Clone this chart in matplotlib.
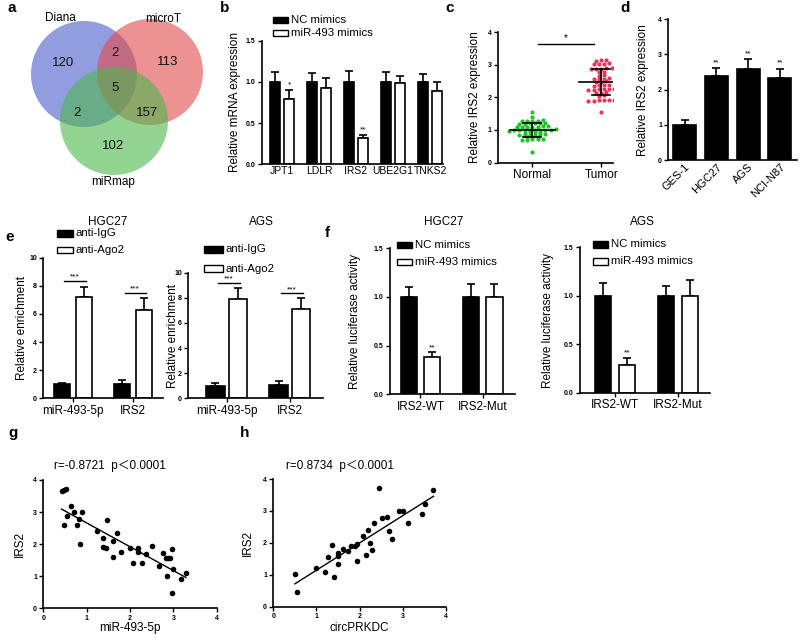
import numpy as np
import matplotlib
matplotlib.use('Agg')
import matplotlib.pyplot as plt
from matplotlib.patches import Circle, Rectangle

plt.rcParams['font.family'] = ['Liberation Sans', 'Noto Sans CJK SC', 'DejaVu Sans']

W, H = 800, 639

# ---- data ----
venn_names = ['Diana', 'microT', 'miRmap']
# Diana only, microT only, miRmap only, D&M, D&R, M&R, all three
venn_counts = [120, 113, 102, 2, 2, 157, 5]

b_genes = ['JPT1', 'LDLR', 'IRS2', 'UBE2G1', 'TNKS2']
b_nc = [1.0, 1.0, 1.0, 1.0, 1.0]
b_nc_err = [0.12, 0.11, 0.13, 0.12, 0.10]
b_mir = [0.79, 0.92, 0.32, 0.99, 0.89]
b_mir_err = [0.11, 0.13, 0.04, 0.08, 0.11]
b_sig = ['*', '', '**', '', '']

c_groups = ['Normal', 'Tumor']
c_normal = [1.55, 1.40, 1.28, 1.29, 1.27, 1.28, 1.30, 1.20, 1.21, 1.19, 1.20, 1.22, 1.18,
            1.10, 1.11, 1.09, 1.10, 1.12, 1.08, 1.10, 1.00, 1.01, 0.99, 1.00, 1.02, 0.98,
            1.00, 1.01, 0.99, 1.00, 0.93, 0.94, 0.92, 0.93, 0.86, 0.87, 0.85, 0.86, 0.88,
            0.84, 0.78, 0.79, 0.77, 0.71, 0.72, 0.70, 0.71, 0.69, 0.31]
c_tumor = [3.14, 3.15, 3.13, 3.04, 3.05, 3.03, 3.04, 2.88, 2.89, 2.87, 2.88, 2.90,
           2.78, 2.79, 2.68, 2.67, 2.58, 2.59, 2.57, 2.58, 2.48, 2.49, 2.47, 2.37, 2.38,
           2.36, 2.37, 2.25, 2.26, 2.24, 2.25, 2.27, 2.23, 2.15, 2.16, 2.14, 2.05, 2.06,
           1.91, 1.92, 1.90, 1.91, 1.93, 1.89, 1.55]

d_cells = ['GES-1', 'HGC27', 'AGS', 'NCI-N87']
d_vals = [1.0, 2.4, 2.6, 2.33]
d_err = [0.14, 0.22, 0.28, 0.27]
d_sig = ['', '**', '**', '**']

e_targets = ['miR-493-5p', 'IRS2']
e_hgc_igg = [1.0, 1.0]
e_hgc_igg_err = [0.1, 0.3]
e_hgc_ago = [7.2, 6.3]
e_hgc_ago_err = [0.75, 0.8]
e_ags_igg = [1.0, 1.05]
e_ags_igg_err = [0.2, 0.35]
e_ags_ago = [7.9, 7.1]
e_ags_ago_err = [0.9, 0.85]

f_constructs = ['IRS2-WT', 'IRS2-Mut']
f_hgc_nc = [1.0, 1.0]
f_hgc_nc_err = [0.1, 0.13]
f_hgc_mir = [0.38, 1.0]
f_hgc_mir_err = [0.05, 0.13]
f_ags_nc = [1.0, 1.0]
f_ags_nc_err = [0.13, 0.1]
f_ags_mir = [0.29, 1.0]
f_ags_mir_err = [0.07, 0.16]
f_sig = ['**', '']

g_x = [0.42, 0.48, 0.52, 0.63, 0.54, 0.48, 0.71, 0.78, 0.82, 0.90, 0.85, 1.23, 1.37,
       1.38, 1.45, 1.48, 1.60, 1.69, 1.60, 1.79, 2.00, 2.08, 2.19, 2.19, 2.27, 2.38,
       2.50, 2.68, 2.75, 2.83, 2.88, 2.92, 2.86, 2.98, 3.00, 2.98, 3.18, 3.29]
g_y = [3.66, 3.69, 3.71, 3.19, 2.88, 2.60, 2.99, 2.60, 2.77, 2.99, 2.00, 2.41, 2.20,
       1.92, 1.89, 2.75, 2.11, 2.34, 1.61, 1.77, 1.89, 1.42, 1.89, 1.77, 1.42, 1.68,
       1.95, 1.33, 1.71, 1.56, 1.56, 1.56, 1.01, 1.84, 1.22, 0.47, 0.90, 1.09]

h_x = [0.50, 0.55, 1.00, 1.20, 1.26, 1.37, 1.41, 1.50, 1.50, 1.51, 1.61, 1.74, 1.81,
       1.90, 1.94, 1.95, 2.08, 2.15, 2.20, 2.25, 2.28, 2.33, 2.45, 2.51, 2.64, 2.69,
       2.76, 2.91, 3.01, 3.11, 3.44, 3.52, 3.71]
h_y = [1.01, 0.46, 1.22, 1.10, 1.57, 1.93, 0.92, 1.69, 1.58, 1.33, 1.82, 1.74, 1.90,
       1.91, 1.95, 1.43, 2.21, 1.62, 2.41, 2.00, 1.78, 2.61, 3.71, 2.77, 2.80, 2.36,
       2.11, 3.01, 3.00, 2.61, 2.90, 3.21, 3.67]

fig = plt.figure(figsize=(W / 100, H / 100), dpi=100)


def px_axes(l, t, r, b):
    return fig.add_axes([l / W, 1 - b / H, (r - l) / W, (b - t) / H])


def style(ax, xlim, ylim, yticks, fmt='{:.0f}'):
    for s in ['top', 'right']:
        ax.spines[s].set_visible(False)
    for s in ['left', 'bottom']:
        ax.spines[s].set_linewidth(1.2)
    ax.set_xlim(*xlim)
    ax.set_ylim(*ylim)
    ax.set_yticks(yticks)
    ax.set_yticklabels([fmt.format(v) for v in yticks], fontsize=5, fontweight='bold')
    ax.tick_params(direction='out', length=3, width=1, pad=1.5)
    ax.patch.set_alpha(0)


def grouped(ax, a, a_err, b, b_err, off, w):
    x = np.arange(len(a))
    for xs, v, e, fc in [(x - off, a, a_err, 'black'), (x + off, b, b_err, 'white')]:
        ax.errorbar(xs, v, yerr=[np.zeros(len(v)), e], fmt='none', ecolor='black',
                    elinewidth=1.2, capsize=3, capthick=1.2, zorder=1)
        ax.bar(xs, v, w, color=fc, edgecolor='black', linewidth=1.2, zorder=2)
    return x


def cat_labels(ax, x, labels, size=8):
    ax.set_xticks(x)
    ax.set_xticklabels(labels, fontsize=size)


# overlay for free text
ov = fig.add_axes([0, 0, 1, 1])
ov.set_xlim(0, W)
ov.set_ylim(H, 0)
ov.axis('off')


def ylab(x, t, b, text):
    ov.text(x, (t + b) / 2, text, rotation=90, ha='center', va='center', fontsize=8.5)


def legend(x, y, labels, dy, w=15.5, h=6.5):
    for i, (lab, fc) in enumerate(zip(labels, ['black', 'white'])):
        yy = y + i * dy
        ov.add_patch(Rectangle((x, yy - h / 2), w, h, facecolor=fc, edgecolor='black', lw=1))
        ov.text(x + w + 3, yy, lab, ha='left', va='center', fontsize=8.2)


# ---- panel letters ----
for lab, (x, y) in {'a': (8, 8), 'b': (220, 8), 'c': (445, 8), 'd': (620, 8),
                    'e': (5, 237), 'f': (325, 233), 'g': (8, 433), 'h': (240, 433)}.items():
    ov.text(x, y, lab, fontsize=11, fontweight='bold', ha='left', va='center')

# ---- a: venn ----
ov.add_patch(Circle((84, 74), 53, facecolor='#4a5ccb', alpha=0.6, lw=0))
ov.add_patch(Circle((150, 72), 53, facecolor='#e24a4a', alpha=0.6, lw=0))
ov.add_patch(Circle((114, 121), 54, facecolor='#4cb84c', alpha=0.6, lw=0))
venn_pos = [(63, 63), (168, 62), (113, 146), (115, 53), (77, 113), (147, 113), (115, 88)]
for (x, y), n in zip(venn_pos, venn_counts):
    ov.text(x, y, str(n), ha='center', va='center', fontsize=9.5, color='#111111')
for (x, y), name in zip([(60, 18), (163, 19), (113, 182)], venn_names):
    ov.text(x, y, name, ha='center', va='center', fontsize=8.5)

# ---- b ----
ax = px_axes(261.7, 40.7, 443, 164.3)
x = grouped(ax, b_nc, b_nc_err, b_mir, b_mir_err, 0.19, 0.29)
style(ax, (-0.55, 4.35), (0, 1.5), [0, 0.5, 1.0, 1.5], '{:.1f}')
cat_labels(ax, x, b_genes, 7.5)
ax.tick_params(axis='x', length=0)
for i, s in enumerate(b_sig):
    if s:
        ax.text(x[i] + 0.19, b_mir[i] + b_mir_err[i] + 0.02, s, ha='center', va='bottom', fontsize=6)
ylab(235, 40.7, 164.3, 'Relative mRNA expression')
legend(272.7, 20, ['NC mimics', 'miR-493 mimics'], 13)


# ---- c ----
def row_offsets(vals, gap, step):
    # GraphPad-like scatter: values close together share a row, spread evenly
    vals = np.asarray(vals)
    order = np.argsort(vals)
    out = np.zeros(len(vals))
    group = [order[0]]
    groups = []
    for idx in order[1:]:
        if vals[idx] - vals[group[0]] > gap:
            groups.append(group)
            group = [idx]
        else:
            group.append(idx)
    groups.append(group)
    for g in groups:
        n = len(g)
        for k, idx in enumerate(g):
            out[idx] = (k - (n - 1) / 2) * step
    return out


ax = px_axes(498, 32.3, 613, 162.5)
style(ax, (-0.5, 1.17), (0, 4), [0, 1, 2, 3, 4])
xpx = 69.0
for i, (vals, col) in enumerate([(c_normal, '#22c02a'), (c_tumor, '#e8365a')]):
    vals = np.array(vals)
    offs = row_offsets(vals, 0.045, 5.2 / xpx)
    ax.scatter(i + offs, vals, s=9, color=col, lw=0, zorder=2)
    m, sd = vals.mean(), vals.std()
    ax.plot([i - 0.33, i + 0.33], [m, m], color='black', lw=1.2, zorder=3)
    ax.plot([i, i], [m - sd, m + sd], color='black', lw=1.2, zorder=3)
    for yy in (m - sd, m + sd):
        ax.plot([i - 0.13, i + 0.13], [yy, yy], color='black', lw=1.2, zorder=3)
cat_labels(ax, [0, 1], c_groups, 8.5)
ax.plot([0.08, 0.9], [3.63, 3.63], color='black', lw=1)
ax.text(0.49, 3.68, '*', ha='center', va='bottom', fontsize=7)
ylab(475, 32.3, 162.5, 'Relative IRS2 expression')

# ---- d ----
ax = px_axes(668.3, 19.3, 797, 160)
xd = np.arange(len(d_vals))
ax.errorbar(xd, d_vals, yerr=[np.zeros(len(d_vals)), d_err], fmt='none', ecolor='black',
            elinewidth=1.2, capsize=3, capthick=1.2, zorder=1)
ax.bar(xd, d_vals, 0.72, color='black', edgecolor='black', lw=1.2, zorder=2)
style(ax, (-0.52, 3.54), (0, 4), [0, 1, 2, 3, 4])
ax.set_xticks(xd)
ax.set_xticklabels(d_cells, fontsize=8, rotation=45, ha='right', rotation_mode='anchor')
ax.tick_params(axis='x', length=0)
for i, s in enumerate(d_sig):
    if s:
        ax.text(i, d_vals[i] + d_err[i] + 0.05, s, ha='center', va='bottom', fontsize=6)
ylab(643, 19.3, 160, 'Relative IRS2 expression')

# ---- e ----
for (l, t, r, b, xl, igg, igg_e, ago, ago_e, w, title_x, name, leg, yl) in [
        (43.3, 257.7, 163.3, 398.3, (-0.49, 1.5), e_hgc_igg, e_hgc_igg_err, e_hgc_ago,
         e_hgc_ago_err, 0.27, 108, 'HGC27', (56.7, 233.3, 16.7, 16), 21.7),
        (188.3, 272.7, 323.3, 398.3, (-0.61, 1.53), e_ags_igg, e_ags_igg_err, e_ags_ago,
         e_ags_ago_err, 0.29, 261, 'AGS', (204, 249.5, 19, 18.5), 172.5)]:
    ax = px_axes(l, t, r, b)
    x = grouped(ax, igg, igg_e, ago, ago_e, 0.18, w)
    style(ax, xl, (0, 10), [0, 2, 4, 6, 8, 10])
    cat_labels(ax, x, e_targets, 8.5)
    for i in range(2):
        top = ago[i] + ago_e[i] + 0.4
        ax.plot([x[i] - 0.14, x[i] + 0.21], [top, top], color='black', lw=1)
        ax.text(x[i] + 0.03, top + 0.02, '***', ha='center', va='bottom', fontsize=6)
    ov.text(title_x, 221.7, name, ha='center', va='center', fontsize=8.5)
    legend(leg[0], leg[1], ['anti-IgG', 'anti-Ago2'], leg[2], w=leg[3])
    ylab(yl, t, b, 'Relative enrichment')

# ---- f ----
for (l, t, r, b, xl, nc, nc_e, mir, mir_e, title_x, name, leg, yl) in [
        (390, 248.3, 515, 394.3, (-0.49, 1.52), f_hgc_nc, f_hgc_nc_err, f_hgc_mir,
         f_hgc_mir_err, 443.3, 'HGC27', (396.7, 245), 355),
        (580, 247.3, 710, 392.7, (-0.56, 1.51), f_ags_nc, f_ags_nc_err, f_ags_mir,
         f_ags_mir_err, 642.7, 'AGS', (592.7, 244.3), 548.3)]:
    ax = px_axes(l, t, r, b)
    x = grouped(ax, nc, nc_e, mir, mir_e, 0.19, 0.26)
    style(ax, xl, (0, 1.5), [0, 0.5, 1.0, 1.5], '{:.1f}')
    cat_labels(ax, x, f_constructs, 8.5)
    for i, s in enumerate(f_sig):
        if s:
            ax.text(x[i] + 0.19, mir[i] + mir_e[i] + 0.01, s, ha='center', va='bottom', fontsize=6)
    ov.text(title_x, 221.7, name, ha='center', va='center', fontsize=8.5)
    legend(leg[0], leg[1], ['NC mimics', 'miR-493 mimics'], 17)
    ylab(yl, t, b, 'Relative luciferase activity')

# ---- g / h ----
for (l, t, r, b, xs, ys, title, xlabel, yl) in [
        (43.3, 480, 216.7, 608.3, g_x, g_y, 'r=-0.8721  p＜0.0001', 'miR-493-5p', 20),
        (273.3, 479, 446, 606.7, h_x, h_y, 'r=0.8734  p＜0.0001', 'circPRKDC', 248.3)]:
    ax = px_axes(l, t, r, b)
    xs, ys = np.array(xs), np.array(ys)
    ax.scatter(xs, ys, s=16, color='black', lw=0, zorder=3)
    k, c0 = np.polyfit(xs, ys, 1)
    xx = np.array([xs.min(), xs.max()])
    ax.plot(xx, k * xx + c0, color='black', lw=1)
    style(ax, (0, 4), (0, 4), [0, 1, 2, 3, 4])
    ax.set_xticks([0, 1, 2, 3, 4])
    ax.set_xticklabels(['0', '1', '2', '3', '4'], fontsize=5, fontweight='bold')
    ax.set_xlim(0, 4)
    ov.text(l + 67, 466, title, ha='center', va='center', fontsize=8.5)
    ov.text((l + r) / 2, 628, xlabel, ha='center', va='center', fontsize=8.5)
    ylab(yl, t, b, 'IRS2')

fig.savefig('out.png', dpi=100)
